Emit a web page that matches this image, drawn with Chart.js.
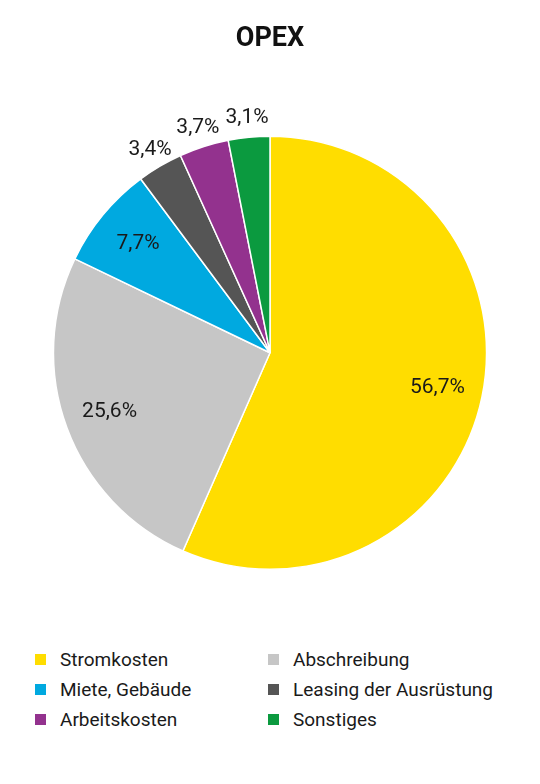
<!DOCTYPE html>
<html lang="de">
<head>
  <meta charset="UTF-8" />
  <title>OPEX</title>
  <script src="https://cdn.jsdelivr.net/npm/chart.js"></script>
  <style>
    body { margin: 0; background: #fff; font-family: Roboto, "Noto Sans", sans-serif; color: #1a1a1a; }
    #wrap { position: relative; width: 540px; height: 784px; }
    #chartBox { position: absolute; left: 0; top: 0; width: 540px; height: 610px; }
    #legend { position: absolute; left: 0; top: 644px; width: 540px; }
    .item { position: absolute; display: flex; align-items: center; font-size: 19px; height: 30px; white-space: nowrap; }
    .box { width: 11px; height: 11px; margin-right: 14px; }
  </style>
</head>
<body>
  <div id="wrap">
    <div id="chartBox"><canvas id="opexChart"></canvas></div>
    <div id="legend"></div>
  </div>

  <script>
    // data
    const categories = ['Stromkosten', 'Abschreibung', 'Miete, Gebäude', 'Leasing der Ausrüstung', 'Arbeitskosten', 'Sonstiges'];
    const shares = [56.7, 25.6, 7.7, 3.4, 3.7, 3.1];
    const colors = ['#ffdd00', '#c6c6c6', '#00a9e0', '#555555', '#93328e', '#0b9a3f'];

    const fmt = v => v.toFixed(1).replace('.', ',') + '%';

    // percent labels, inside for big slices, just outside the rim for the small ones
    const sliceLabels = {
      id: 'sliceLabels',
      afterDatasetsDraw(chart) {
        const ctx = chart.ctx;
        const arcs = chart.getDatasetMeta(0).data;
        ctx.save();
        ctx.font = '21px Roboto, "Noto Sans", sans-serif';
        ctx.fillStyle = '#1a1a1a';
        ctx.textAlign = 'center';
        ctx.textBaseline = 'middle';
        arcs.forEach((arc, i) => {
          const p = arc.getProps(['x', 'y', 'startAngle', 'endAngle', 'outerRadius']);
          const mid = (p.startAngle + p.endAngle) / 2;
          const r = shares[i] < 5 ? p.outerRadius * 1.09 : p.outerRadius * 0.79;
          ctx.fillText(fmt(shares[i]), p.x + Math.cos(mid) * r, p.y + Math.sin(mid) * r);
        });
        ctx.restore();
      }
    };

    new Chart(document.getElementById('opexChart'), {
      type: 'pie',
      data: {
        labels: categories,
        datasets: [{
          data: shares,
          backgroundColor: colors,
          borderColor: '#ffffff',
          borderWidth: 1.5
        }]
      },
      options: {
        responsive: true,
        maintainAspectRatio: false,
        animation: false,
        layout: { padding: { left: 52, right: 52, top: 0, bottom: 40 } },
        plugins: {
          legend: { display: false },
          tooltip: { enabled: false },
          title: {
            display: true,
            text: 'OPEX',
            color: '#111',
            font: { family: 'Roboto', size: 27, weight: 'bold' },
            padding: { top: 23, bottom: 80 }
          }
        }
      },
      plugins: [sliceLabels]
    });

    // two column legend below the pie
    const legend = document.getElementById('legend');
    categories.forEach((name, i) => {
      const el = document.createElement('div');
      el.className = 'item';
      el.style.left = (i % 2 === 0 ? 35 : 268) + 'px';
      el.style.top = (Math.floor(i / 2) * 30) + 'px';
      el.innerHTML = '<span class="box" style="background:' + colors[i] + '"></span>' + name;
      legend.appendChild(el);
    });
  </script>
</body>
</html>
